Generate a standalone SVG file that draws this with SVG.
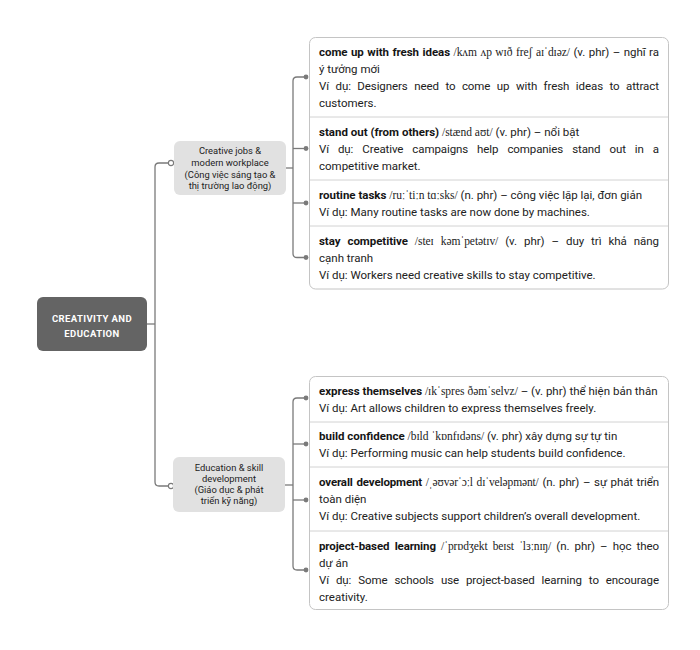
<svg xmlns="http://www.w3.org/2000/svg" width="700" height="650" viewBox="0 0 700 650">
<style>
.bg{fill:#ffffff}
.ln{fill:none;stroke:#7a7a7a;stroke-width:1.3}
.dot{fill:#7a7a7a}
.hol{fill:#ffffff;stroke:#7a7a7a;stroke-width:1.1}
.root{fill:#646464}
.rt{font-family:Roboto,"Liberation Sans",sans-serif;font-size:9.5px;font-weight:bold;fill:#ffffff;letter-spacing:0.4px;text-anchor:middle}
.sub{fill:#e1e1e1}
.st{font-family:Roboto,"Liberation Sans",sans-serif;font-size:9.4px;fill:#222222;text-anchor:middle}
.box{fill:#ffffff;stroke:#c4c4c4;stroke-width:1}
.sep{stroke:#d2d2d2;stroke-width:1}
.t{font-family:Roboto,"Liberation Sans",sans-serif;font-size:11.5px;fill:#222222}
.b{font-weight:bold;fill:#151515}
.ipa{font-family:"Liberation Serif","DejaVu Serif",serif;font-size:11.5px}
</style>
<rect class="bg" x="0" y="0" width="700" height="650"/>

<g id="connectors">
  <path class="ln" d="M147,324 H155"/>
  <path class="ln" d="M171,163 H159 Q155,163 155,167 V482 Q155,486 159,486 H171"/>
  <circle class="hol" cx="171" cy="163" r="2.6"/>
  <circle class="hol" cx="171" cy="486" r="2.6"/>
  <path class="ln" d="M286,168 H293"/>
  <path class="ln" d="M306,77 H297 Q293,77 293,81 V253.5 Q293,257.5 297,257.5 H306"/>
  <path class="ln" d="M293,148.5 H306"/>
  <path class="ln" d="M293,203 H306"/>
  <circle class="dot" cx="306" cy="77" r="2.4"/>
  <circle class="dot" cx="306" cy="148.5" r="2.4"/>
  <circle class="dot" cx="306" cy="203" r="2.4"/>
  <circle class="dot" cx="306" cy="257.5" r="2.4"/>
  <path class="ln" d="M285,485 H293"/>
  <path class="ln" d="M306,398 H297 Q293,398 293,402 V566 Q293,570 297,570 H306"/>
  <path class="ln" d="M293,444 H306"/>
  <path class="ln" d="M293,500 H306"/>
  <circle class="dot" cx="306" cy="398" r="2.4"/>
  <circle class="dot" cx="306" cy="444" r="2.4"/>
  <circle class="dot" cx="306" cy="500" r="2.4"/>
  <circle class="dot" cx="306" cy="570" r="2.4"/>
</g>

<g id="root">
  <rect class="root" x="37" y="297" width="110" height="54" rx="6"/>
  <text class="rt" x="92" y="321.5">CREATIVITY AND</text>
  <text class="rt" x="92" y="336.5">EDUCATION</text>
</g>

<g id="node-creative-jobs">
  <rect class="sub" x="174" y="141" width="112" height="54" rx="6"/>
  <text class="st" x="230" y="154">Creative jobs &amp;</text>
  <text class="st" x="230" y="166">modern workplace</text>
  <text class="st" x="230" y="177.5">(Công việc sáng tạo &amp;</text>
  <text class="st" x="230" y="189">thị trường lao động)</text>
</g>

<g id="node-education">
  <rect class="sub" x="173" y="457" width="112" height="55" rx="6"/>
  <text class="st" x="229" y="470.5">Education &amp; skill</text>
  <text class="st" x="229" y="481.5">development</text>
  <text class="st" x="229" y="492.5">(Giáo dục &amp; phát</text>
  <text class="st" x="229" y="503.5">triển kỹ năng)</text>
</g>

<g id="leaves-creative-jobs">
  <rect class="box" x="309.5" y="37.5" width="359" height="251.5" rx="6"/>
  <line class="sep" x1="310" y1="117" x2="668" y2="117"/>
  <line class="sep" x1="310" y1="180" x2="668" y2="180"/>
  <line class="sep" x1="310" y1="226" x2="668" y2="226"/>
  <g id="leaf-come-up">
    <text class="t" x="319" y="56" word-spacing="0.7" textLength="340" lengthAdjust="spacing"><tspan class="b">come up with fresh ideas</tspan> <tspan class="ipa">/kʌm ʌp wɪð freʃ aɪˈdɪəz/</tspan> (v. phr) – nghĩ ra</text>
    <text class="t" x="319" y="73">ý tưởng mới</text>
    <text class="t" x="319" y="90" word-spacing="3.7" textLength="340" lengthAdjust="spacing">Ví dụ: Designers need to come up with fresh ideas to attract</text>
    <text class="t" x="319" y="107">customers.</text>
  </g>
  <g id="leaf-stand-out">
    <text class="t" x="319" y="136"><tspan class="b">stand out (from others)</tspan> <tspan class="ipa">/stænd aʊt/</tspan> (v. phr) – nổi bật</text>
    <text class="t" x="319" y="153" word-spacing="6.2" textLength="340" lengthAdjust="spacing">Ví dụ: Creative campaigns help companies stand out in a</text>
    <text class="t" x="319" y="170">competitive market.</text>
  </g>
  <g id="leaf-routine-tasks">
    <text class="t" x="319" y="199"><tspan class="b">routine tasks</tspan> <tspan class="ipa">/ruːˈtiːn tɑːsks/</tspan> (n. phr) – công việc lặp lại, đơn giản</text>
    <text class="t" x="319" y="216">Ví dụ: Many routine tasks are now done by machines.</text>
  </g>
  <g id="leaf-stay-competitive">
    <text class="t" x="319" y="245" word-spacing="4.2" textLength="340" lengthAdjust="spacing"><tspan class="b">stay competitive</tspan> <tspan class="ipa">/steɪ kəmˈpetətɪv/</tspan> (v. phr) – duy trì khả năng</text>
    <text class="t" x="319" y="262">cạnh tranh</text>
    <text class="t" x="319" y="279">Ví dụ: Workers need creative skills to stay competitive.</text>
  </g>
</g>

<g id="leaves-education">
  <rect class="box" x="309.5" y="376.5" width="359" height="233" rx="6"/>
  <line class="sep" x1="310" y1="422" x2="668" y2="422"/>
  <line class="sep" x1="310" y1="467" x2="668" y2="467"/>
  <line class="sep" x1="310" y1="531" x2="668" y2="531"/>
  <g id="leaf-express">
    <text class="t" x="319" y="395"><tspan class="b">express themselves</tspan> <tspan class="ipa">/ɪkˈspres ðəmˈselvz/</tspan> – (v. phr) thể hiện bản thân</text>
    <text class="t" x="319" y="412">Ví dụ: Art allows children to express themselves freely.</text>
  </g>
  <g id="leaf-build-confidence">
    <text class="t" x="319" y="440"><tspan class="b">build confidence</tspan> <tspan class="ipa">/bɪld ˈkɒnfɪdəns/</tspan> (v. phr) xây dựng sự tự tin</text>
    <text class="t" x="319" y="457">Ví dụ: Performing music can help students build confidence.</text>
  </g>
  <g id="leaf-overall-development">
    <text class="t" x="319" y="486" word-spacing="1.0" textLength="340" lengthAdjust="spacing"><tspan class="b">overall development</tspan> <tspan class="ipa">/ˌəʊvərˈɔːl dɪˈveləpmənt/</tspan> (n. phr) – sự phát triển</text>
    <text class="t" x="319" y="503">toàn diện</text>
    <text class="t" x="319" y="520">Ví dụ: Creative subjects support children’s overall development.</text>
  </g>
  <g id="leaf-project-based">
    <text class="t" x="319" y="550" word-spacing="2.5" textLength="340" lengthAdjust="spacing"><tspan class="b">project-based learning</tspan> <tspan class="ipa">/ˈprɒdʒekt beɪst ˈlɜːnɪŋ/</tspan> (n. phr) – học theo</text>
    <text class="t" x="319" y="567">dự án</text>
    <text class="t" x="319" y="584" word-spacing="4.2" textLength="340" lengthAdjust="spacing">Ví dụ: Some schools use project-based learning to encourage</text>
    <text class="t" x="319" y="601">creativity.</text>
  </g>
</g>
</svg>
